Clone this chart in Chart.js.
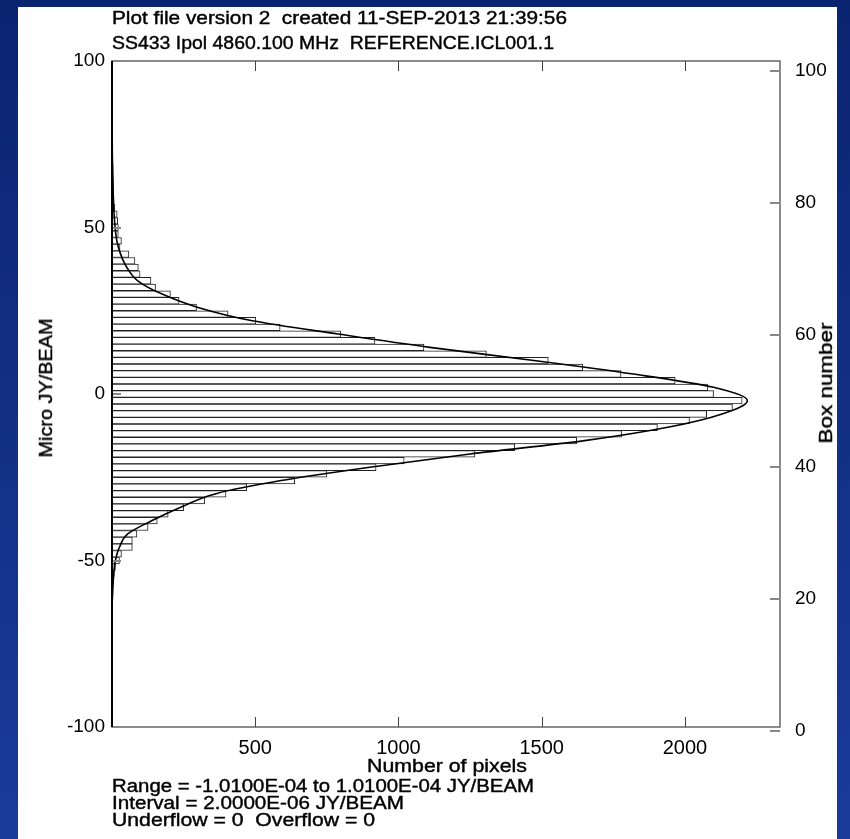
<!DOCTYPE html>
<html>
<head>
<meta charset="utf-8">
<script src="https://cdn.jsdelivr.net/npm/chart.js@4.4.0/dist/chart.umd.min.js"></script>
<style>
html, body { margin: 0; padding: 0; }
body {
  width: 850px; height: 839px; overflow: hidden; position: relative;
  background: linear-gradient(180deg, #0b2470 0%, #1a3b9a 100%);
  font-family: "Liberation Sans", Arial, sans-serif;
}
#panel { position: absolute; left: 18px; top: 7px; width: 819px; height: 832px; background: #fff; }
#chart { position: absolute; left: 0; top: 0; }
.txt, .vt {
  position: absolute; white-space: nowrap; font-size: 18px; line-height: 18px; color: #000;
  -webkit-text-stroke: 0.4px #000;
}
.txt { transform-origin: 0 50%; }
</style>
</head>
<body>
<div id="panel"></div>
<canvas id="chart" width="850" height="839"></canvas>

<div class="txt" style="left:112px; top:9px" data-w="455">Plot file version 2&nbsp; created 11-SEP-2013 21:39:56</div>
<div class="txt" style="left:112px; top:34px" data-w="442">SS433 Ipol 4860.100 MHz&nbsp; REFERENCE.ICL001.1</div>
<div class="txt" style="left:112px; top:777px" data-w="422">Range = -1.0100E-04 to 1.0100E-04 JY/BEAM</div>
<div class="txt" style="left:112px; top:794px" data-w="292">Interval = 2.0000E-06 JY/BEAM</div>
<div class="txt" style="left:112px; top:811px" data-w="263">Underflow = 0&nbsp; Overflow = 0</div>
<div class="txt" id="xTitle" style="left:367px; top:757px" data-w="160">Number of pixels</div>
<div class="vt" id="yTitle" data-cx="46" data-cy="388" data-w="139">Micro JY/BEAM</div>
<div class="vt" id="y2Title" data-cx="826" data-cy="383" data-w="121">Box number</div>

<script>
// histogram bins (centre, micro Jy/beam) and pixel counts
const binCentres = [84, 82, 80, 78, 76, 74, 72, 70, 68, 66, 64, 62, 60, 58, 56,
  54, 52, 50, 48, 46, 44, 42, 40, 38, 36, 34, 32, 30, 28, 26, 24, 22, 20, 18, 16,
  14, 12, 10, 8, 6, 4, 2, 0, -2, -4, -6, -8, -10, -12, -14, -16, -18, -20, -22,
  -24, -26, -28, -30, -32, -34, -36, -38, -40, -42, -44, -46, -48, -50, -52, -54,
  -56, -58, -60, -62, -64]
const pixelCounts = [1, 1, 2, 2, 2, 3, 3, 3, 4, 4, 5, 5, 6, 7, 10,
  18, 20, 22, 22, 33, 28, 59, 80, 92, 98, 136, 152, 204, 234, 295, 405, 502, 587, 798, 918,
  1089, 1307, 1523, 1643, 1777, 1966, 2080, 2100, 2200, 2166, 2076, 2016, 1904, 1779, 1622, 1406, 1267, 1020, 922,
  750, 638, 470, 398, 324, 250, 196, 158, 126, 87, 71, 71, 33, 26, 12, 8,
  6, 4, 3, 2, 1]

// fitted curve
const curveValues = [86, 80, 72, 64, 56, 50, 46, 42, 38, 34, 30, 26, 22, 18, 14, 10, 6, 2, -2,
  -6, -10, -14, -18, -22, -26, -30, -34, -38, -42, -46, -50, -54, -58, -64]
const curveCounts = [0, 0.5, 1, 3, 6, 11, 17, 30, 52, 90, 175, 300, 490, 790, 1110, 1480, 1820, 2100, 2218,
  2130, 1940, 1650, 1250, 900, 590, 360, 240, 140, 55, 26, 12, 6, 3, 0]

const valueTicks = [-100, -50, 0, 50, 100]
const boxTicks = [0, 20, 40, 60, 80, 100]
const countTicks = [500, 1000, 1500, 2000]

const tickFont = { family: '"Liberation Sans", Arial, sans-serif', size: 19 }

// inward tick marks and the plot frame
const frameTicks = {
  id: 'frameTicks',
  afterDatasetsDraw(chart) {
    const { ctx, chartArea: a, scales } = chart
    ctx.save()
    ctx.strokeStyle = '#666'
    ctx.lineWidth = 1.5
    ctx.strokeRect(a.left, a.top, a.right - a.left, a.bottom - a.top)
    ctx.lineWidth = 1
    ctx.strokeStyle = '#444'
    countTicks.forEach(v => {
      const px = Math.round(scales.x.getPixelForValue(v)) + 0.5
      ctx.beginPath()
      ctx.moveTo(px, a.bottom); ctx.lineTo(px, a.bottom - 10)
      ctx.moveTo(px, a.top); ctx.lineTo(px, a.top + 10)
      ctx.stroke()
    })
    ctx.strokeStyle = '#888'
    ctx.lineWidth = 2
    valueTicks.forEach(v => {
      const py = Math.round(scales.y.getPixelForValue(v))
      ctx.beginPath(); ctx.moveTo(a.left, py); ctx.lineTo(a.left + 9, py); ctx.stroke()
    })
    boxTicks.forEach(v => {
      const py = Math.round(scales.y2.getPixelForValue(v))
      ctx.beginPath(); ctx.moveTo(a.right, py); ctx.lineTo(a.right - 10, py); ctx.stroke()
    })
    ctx.strokeStyle = '#000'
    ctx.lineWidth = 2
    ctx.beginPath(); ctx.moveTo(a.left, a.top); ctx.lineTo(a.left, a.bottom); ctx.stroke()
    ctx.restore()
  }
}

const ctx = document.getElementById('chart').getContext('2d')
new Chart(ctx, {
  data: {
    datasets: [
      {
        type: 'line',
        data: curveValues.map((v, i) => ({ x: curveCounts[i], y: v })),
        borderColor: '#000',
        borderWidth: 1.6,
        pointRadius: 0,
        fill: false,
        cubicInterpolationMode: 'monotone',
        order: 1
      },
      {
        type: 'bar',
        data: binCentres.map((c, i) => ({ x: pixelCounts[i], y: c })),
        backgroundColor: '#fff',
        borderColor: '#222',
        borderWidth: 1,
        barPercentage: 1,
        categoryPercentage: 1,
        order: 2
      }
    ]
  },
  options: {
    indexAxis: 'y',
    responsive: false,
    animation: false,
    layout: { padding: { left: 0, right: 0, top: 61, bottom: 52 } },
    plugins: { legend: { display: false }, tooltip: { enabled: false } },
    scales: {
      x: {
        type: 'linear', position: 'bottom', min: 0, max: 2332,
        grid: { display: false, drawTicks: false },
        border: { display: false },
        afterBuildTicks: s => { s.ticks = countTicks.map(v => ({ value: v })) },
        afterFit: s => { s.height = 60 },
        ticks: { color: '#000', font: { ...tickFont, size: 20 }, padding: 9, autoSkip: false, maxRotation: 0, callback: v => String(v) }
      },
      y: {
        type: 'linear', position: 'left', min: -100, max: 100, offset: false,
        grid: { display: false, drawTicks: false },
        border: { display: false },
        afterBuildTicks: s => { s.ticks = valueTicks.map(v => ({ value: v })) },
        afterFit: s => { s.width = 112 },
        ticks: { color: '#000', font: tickFont, padding: 7, autoSkip: false, callback: v => String(v) }
      },
      y2: {
        type: 'linear', position: 'right', min: 0.6, max: 101.5,
        grid: { display: false, drawTicks: false },
        border: { display: false },
        afterBuildTicks: s => { s.ticks = boxTicks.map(v => ({ value: v })) },
        afterFit: s => { s.width = 70 },
        ticks: { color: '#000', font: tickFont, padding: 15, autoSkip: false, callback: v => String(v) }
      }
    }
  },
  plugins: [frameTicks]
})

// squeeze the plot texts to the widths of the original lettering
document.querySelectorAll('.txt').forEach(el => {
  const w = el.getBoundingClientRect().width
  el.style.transform = `scaleX(${el.dataset.w / w})`
})
document.querySelectorAll('.vt').forEach(el => {
  const w = el.getBoundingClientRect().width
  el.style.left = el.dataset.cx + 'px'
  el.style.top = el.dataset.cy + 'px'
  el.style.transform = `translate(-50%, -50%) rotate(-90deg) scaleX(${el.dataset.w / w})`
})
</script>
</body>
</html>
